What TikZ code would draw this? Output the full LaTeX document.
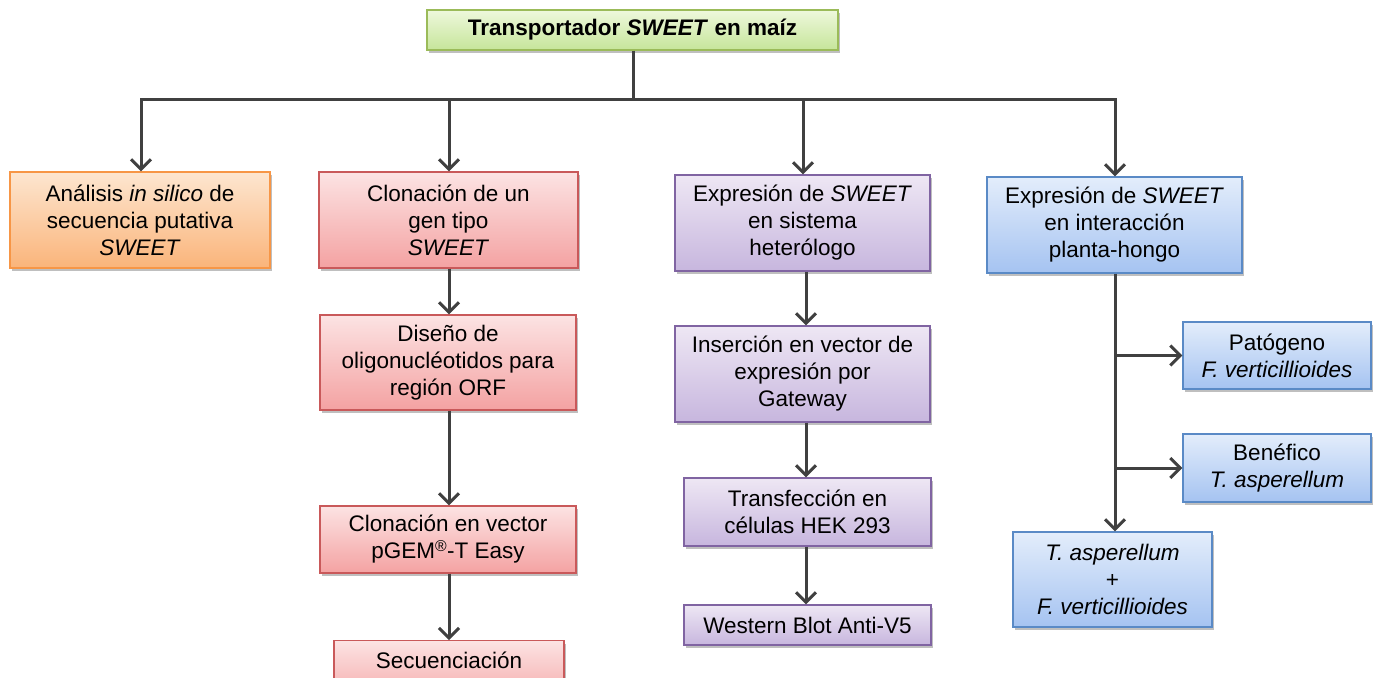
\documentclass[tikz,border=0pt]{standalone}
\usepackage{fontspec}
\setmainfont{Liberation Sans}
\usetikzlibrary{arrows.meta,shadows}
\definecolor{lncol}{HTML}{404040}
\definecolor{gbd}{HTML}{9BBB59}\definecolor{gtop}{HTML}{EEF8DC}\definecolor{gbot}{HTML}{C6E59A}
\definecolor{obd}{HTML}{F79646}\definecolor{otop}{HTML}{FDE6D0}\definecolor{obot}{HTML}{FAB47A}
\definecolor{rbd}{HTML}{C9595A}\definecolor{rtop}{HTML}{FCE3E3}\definecolor{rbot}{HTML}{F4A2A2}
\definecolor{pbd}{HTML}{8064A2}\definecolor{ptop}{HTML}{EEE7F4}\definecolor{pbot}{HTML}{C7B6DE}
\definecolor{bbd}{HTML}{5A8AC6}\definecolor{btop}{HTML}{E3EDFB}\definecolor{bbot}{HTML}{A5C3F1}
\tikzset{
  boxbase/.style={rectangle, line width=1.2pt, align=center, inner sep=0pt,
    font=\fontsize{22.5}{27}\selectfont,
    drop shadow={shadow xshift=2pt, shadow yshift=-3pt, opacity=0.25, fill=black}},
  gbox/.style={boxbase, draw=gbd, top color=gtop, bottom color=gbot},
  obox/.style={boxbase, draw=obd, top color=otop, bottom color=obot},
  rbox/.style={boxbase, draw=rbd, top color=rtop, bottom color=rbot},
  pbox/.style={boxbase, draw=pbd, top color=ptop, bottom color=pbot},
  bbox/.style={boxbase, draw=bbd, top color=btop, bottom color=bbot},
  conn/.style={draw=lncol, line width=3pt},
  arr/.style={conn, -{Straight Barb[length=10pt,width=20pt,line width=3pt]}},
}
\begin{document}
\begin{tikzpicture}[x=1pt,y=-1pt]
\useasboundingbox (0,0) rectangle (1375,677);
% top
\node[gbox, minimum width=411, minimum height=40, font=\bfseries\fontsize{22.5}{27}\selectfont] (top) at (632.5,30) {Transportador \textit{SWEET} en maíz};
% column 1
\node[obox, minimum width=260, minimum height=96] (a1) at (140,220) {Análisis \textit{in silico} de\\secuencia putativa\\\textit{SWEET}};
% column 2
\node[rbox, minimum width=259, minimum height=96] (r1) at (448.5,220) {Clonación de un\\gen tipo\\\textit{SWEET}};
\node[rbox, minimum width=256, minimum height=95] (r2) at (448,362.5) {Diseño de\\oligonucléotidos para\\región ORF};
\node[rbox, minimum width=256, minimum height=67] (r3) at (448,539.5) {Clonación en vector\\pGEM\textsuperscript{®}-T Easy};
\node[rbox, minimum width=230, anchor=north, text height=28pt, text depth=40pt, inner ysep=0pt] (r4) at (449,640) {Secuenciación};
% column 3
\node[pbox, minimum width=255, minimum height=96] (p1) at (802.5,223) {Expresión de \textit{SWEET}\\en sistema\\heterólogo};
\node[pbox, minimum width=255, minimum height=96] (p2) at (802.5,374) {Inserción en vector de\\expresión por\\Gateway};
\node[pbox, minimum width=247, minimum height=68] (p3) at (807.5,512) {Transfección en\\células HEK 293};
\node[pbox, minimum width=247, minimum height=40] (p4) at (807.5,625) {Western Blot Anti-V5};
% column 4
\node[bbox, minimum width=255, minimum height=96] (b1) at (1114.5,225) {Expresión de \textit{SWEET}\\en interacción\\planta-hongo};
\node[bbox, minimum width=188, minimum height=67] (b2) at (1277,355.5) {Patógeno\\\textit{F. verticillioides}};
\node[bbox, minimum width=188, minimum height=68] (b3) at (1277,468) {Benéfico\\\textit{T. asperellum}};
\node[bbox, minimum width=199, minimum height=95] (b4) at (1112.5,579.5) {\textit{T. asperellum}\\+\\\textit{F. verticillioides}};
% tree connectors
\coordinate (hub) at (633,99);
\coordinate (j1) at (141,99);
\coordinate (j2) at (449,99);
\coordinate (j3) at (803,99);
\coordinate (j4) at (1115,99);
\draw[conn] (top.south -| hub) -- (hub);
\draw[conn, line cap=rect] (j1) -- (j4);
\draw[arr] (j1) -- (j1 |- a1.north);
\draw[arr] (j2) -- (j2 |- r1.north);
\draw[arr] (j3) -- (j3 |- p1.north);
\draw[arr] (j4) -- (j4 |- b1.north);
% column 2 chain
\draw[arr] (j2 |- r1.south) -- (j2 |- r2.north);
\draw[arr] (j2 |- r2.south) -- (j2 |- r3.north);
\draw[arr] (j2 |- r3.south) -- (j2 |- r4.north);
% column 3 chain
\coordinate (k3) at (806,0);
\draw[arr] (k3 |- p1.south) -- (k3 |- p2.north);
\draw[arr] (k3 |- p2.south) -- (k3 |- p3.north);
\draw[arr] (k3 |- p3.south) -- (k3 |- p4.north);
% column 4
\draw[arr] (j4 |- b1.south) -- (j4 |- b4.north);
\draw[arr] (j4 |- b2.west) -- (b2.west);
\draw[arr] (j4 |- b3.west) -- (b3.west);
\end{tikzpicture}
\end{document}
